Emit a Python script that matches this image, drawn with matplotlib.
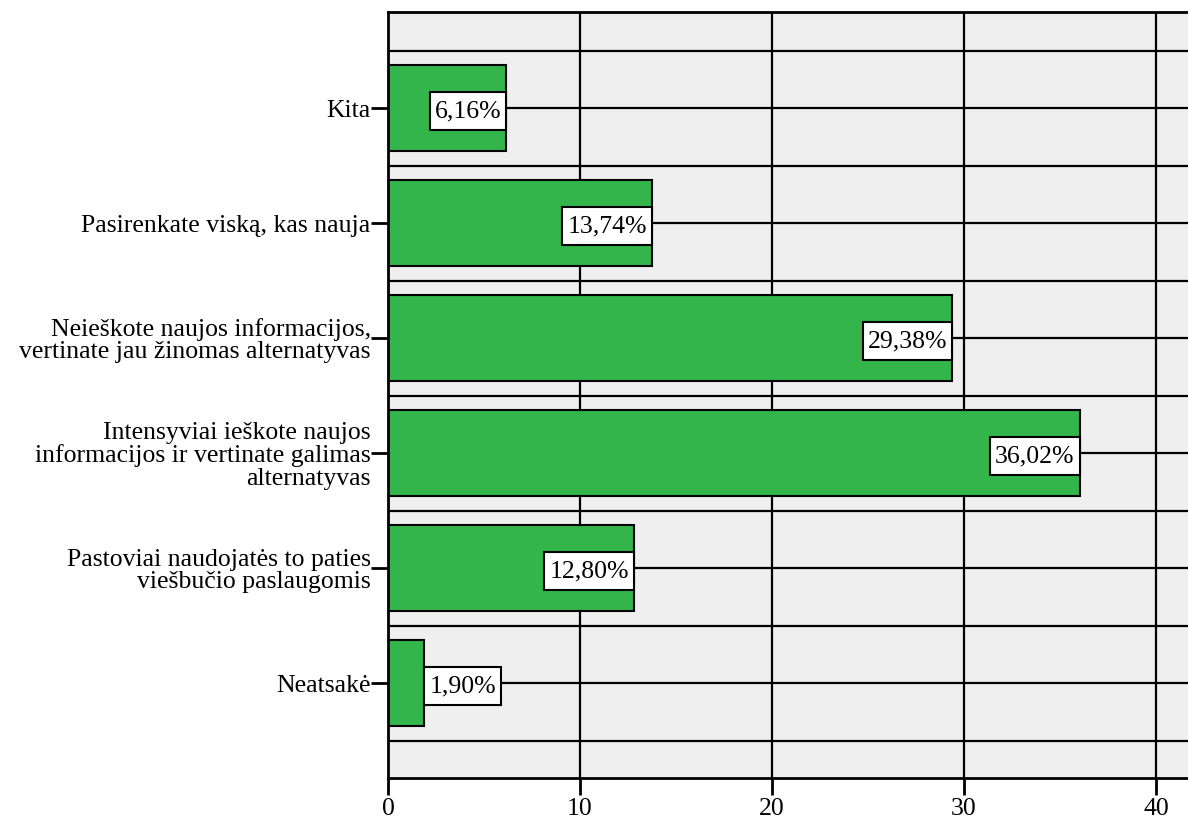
import matplotlib
matplotlib.use("Agg")
import matplotlib.pyplot as plt
from matplotlib.patches import Rectangle
from matplotlib.transforms import IdentityTransform

plt.rcParams['font.family'] = ['Liberation Serif', 'DejaVu Serif']

categories = [
    "Kita",
    "Pasirenkate viską, kas nauja",
    "Neieškote naujos informacijos,\nvertinate jau žinomas alternatyvas",
    "Intensyviai ieškote naujos\ninformacijos ir vertinate galimas\nalternatyvas",
    "Pastoviai naudojatės to paties\nviešbučio paslaugomis",
    "Neatsakė",
]
values = [6.16, 13.74, 29.38, 36.02, 12.80, 1.90]
labels = ["6,16%", "13,74%", "29,38%", "36,02%", "12,80%", "1,90%"]
x_ticks = [0, 10, 20, 30, 40]

DPI = 100
fig = plt.figure(figsize=(11.88, 8.23), dpi=DPI)
ax = fig.add_axes([388 / 1188, 1 - 778 / 823, 1 - 388 / 1188, (778 - 12) / 823])
ax.set_facecolor("#EFEFEF")

pos = list(range(len(categories)))
ax.set_ylim(5.826, -0.835)
ax.set_xlim(0, 41.67)

# grid: vertical at major x ticks, horizontal at categories and between them
for xv in x_ticks[1:]:
    ax.axvline(xv, color="black", lw=1.6, zorder=1)
for p in pos:
    ax.axhline(p, color="black", lw=1.6, zorder=1)
for k in range(len(categories) + 1):
    ax.axhline(k - 0.5, color="black", lw=1.6, zorder=1)

ax.barh(pos, values, height=0.75, color="#33B54C", edgecolor="black",
        linewidth=1.5, zorder=2)

ax.set_yticks(pos)
ax.set_yticklabels(categories, fontsize=18.5, ha="right", multialignment="right",
                   linespacing=1.02)
ax.set_xticks(x_ticks)
ax.set_xticklabels([str(t) for t in x_ticks], fontsize=18.5)
ax.tick_params(axis="y", length=12, width=2, pad=0.5)
ax.tick_params(axis="x", length=12, width=2, pad=2.5)

ax.spines["right"].set_visible(False)
for s in ["left", "top", "bottom"]:
    ax.spines[s].set_linewidth(2)

# value labels in white boxes (box sizes in pixels)
hpad = 5          # horizontal padding around the text
box_h = 38        # box height
box_dy = -3       # box centre slightly below the category line
px2pt = 72 / DPI
texts = []
for p, v, lab in zip(pos, values, labels):
    inside = v >= 3
    t = ax.annotate(lab, xy=(v, p),
                    xytext=((-hpad if inside else hpad) * px2pt, box_dy * px2pt),
                    textcoords="offset points",
                    ha="right" if inside else "left", va="center",
                    fontsize=18.5, zorder=5)
    texts.append((t, v, p, inside))

fig.canvas.draw()
renderer = fig.canvas.get_renderer()
for t, v, p, inside in texts:
    bb = t.get_window_extent(renderer)
    xd, yd = ax.transData.transform((v, p))
    w = bb.width + 2 * hpad
    x0 = xd - w if inside else xd
    y0 = yd + box_dy - box_h / 2
    rect = Rectangle((x0, y0), w, box_h, facecolor="white",
                     edgecolor="black", lw=1.5, zorder=3)
    rect.set_transform(IdentityTransform())
    ax.add_artist(rect)

fig.savefig("out.png", dpi=DPI)
